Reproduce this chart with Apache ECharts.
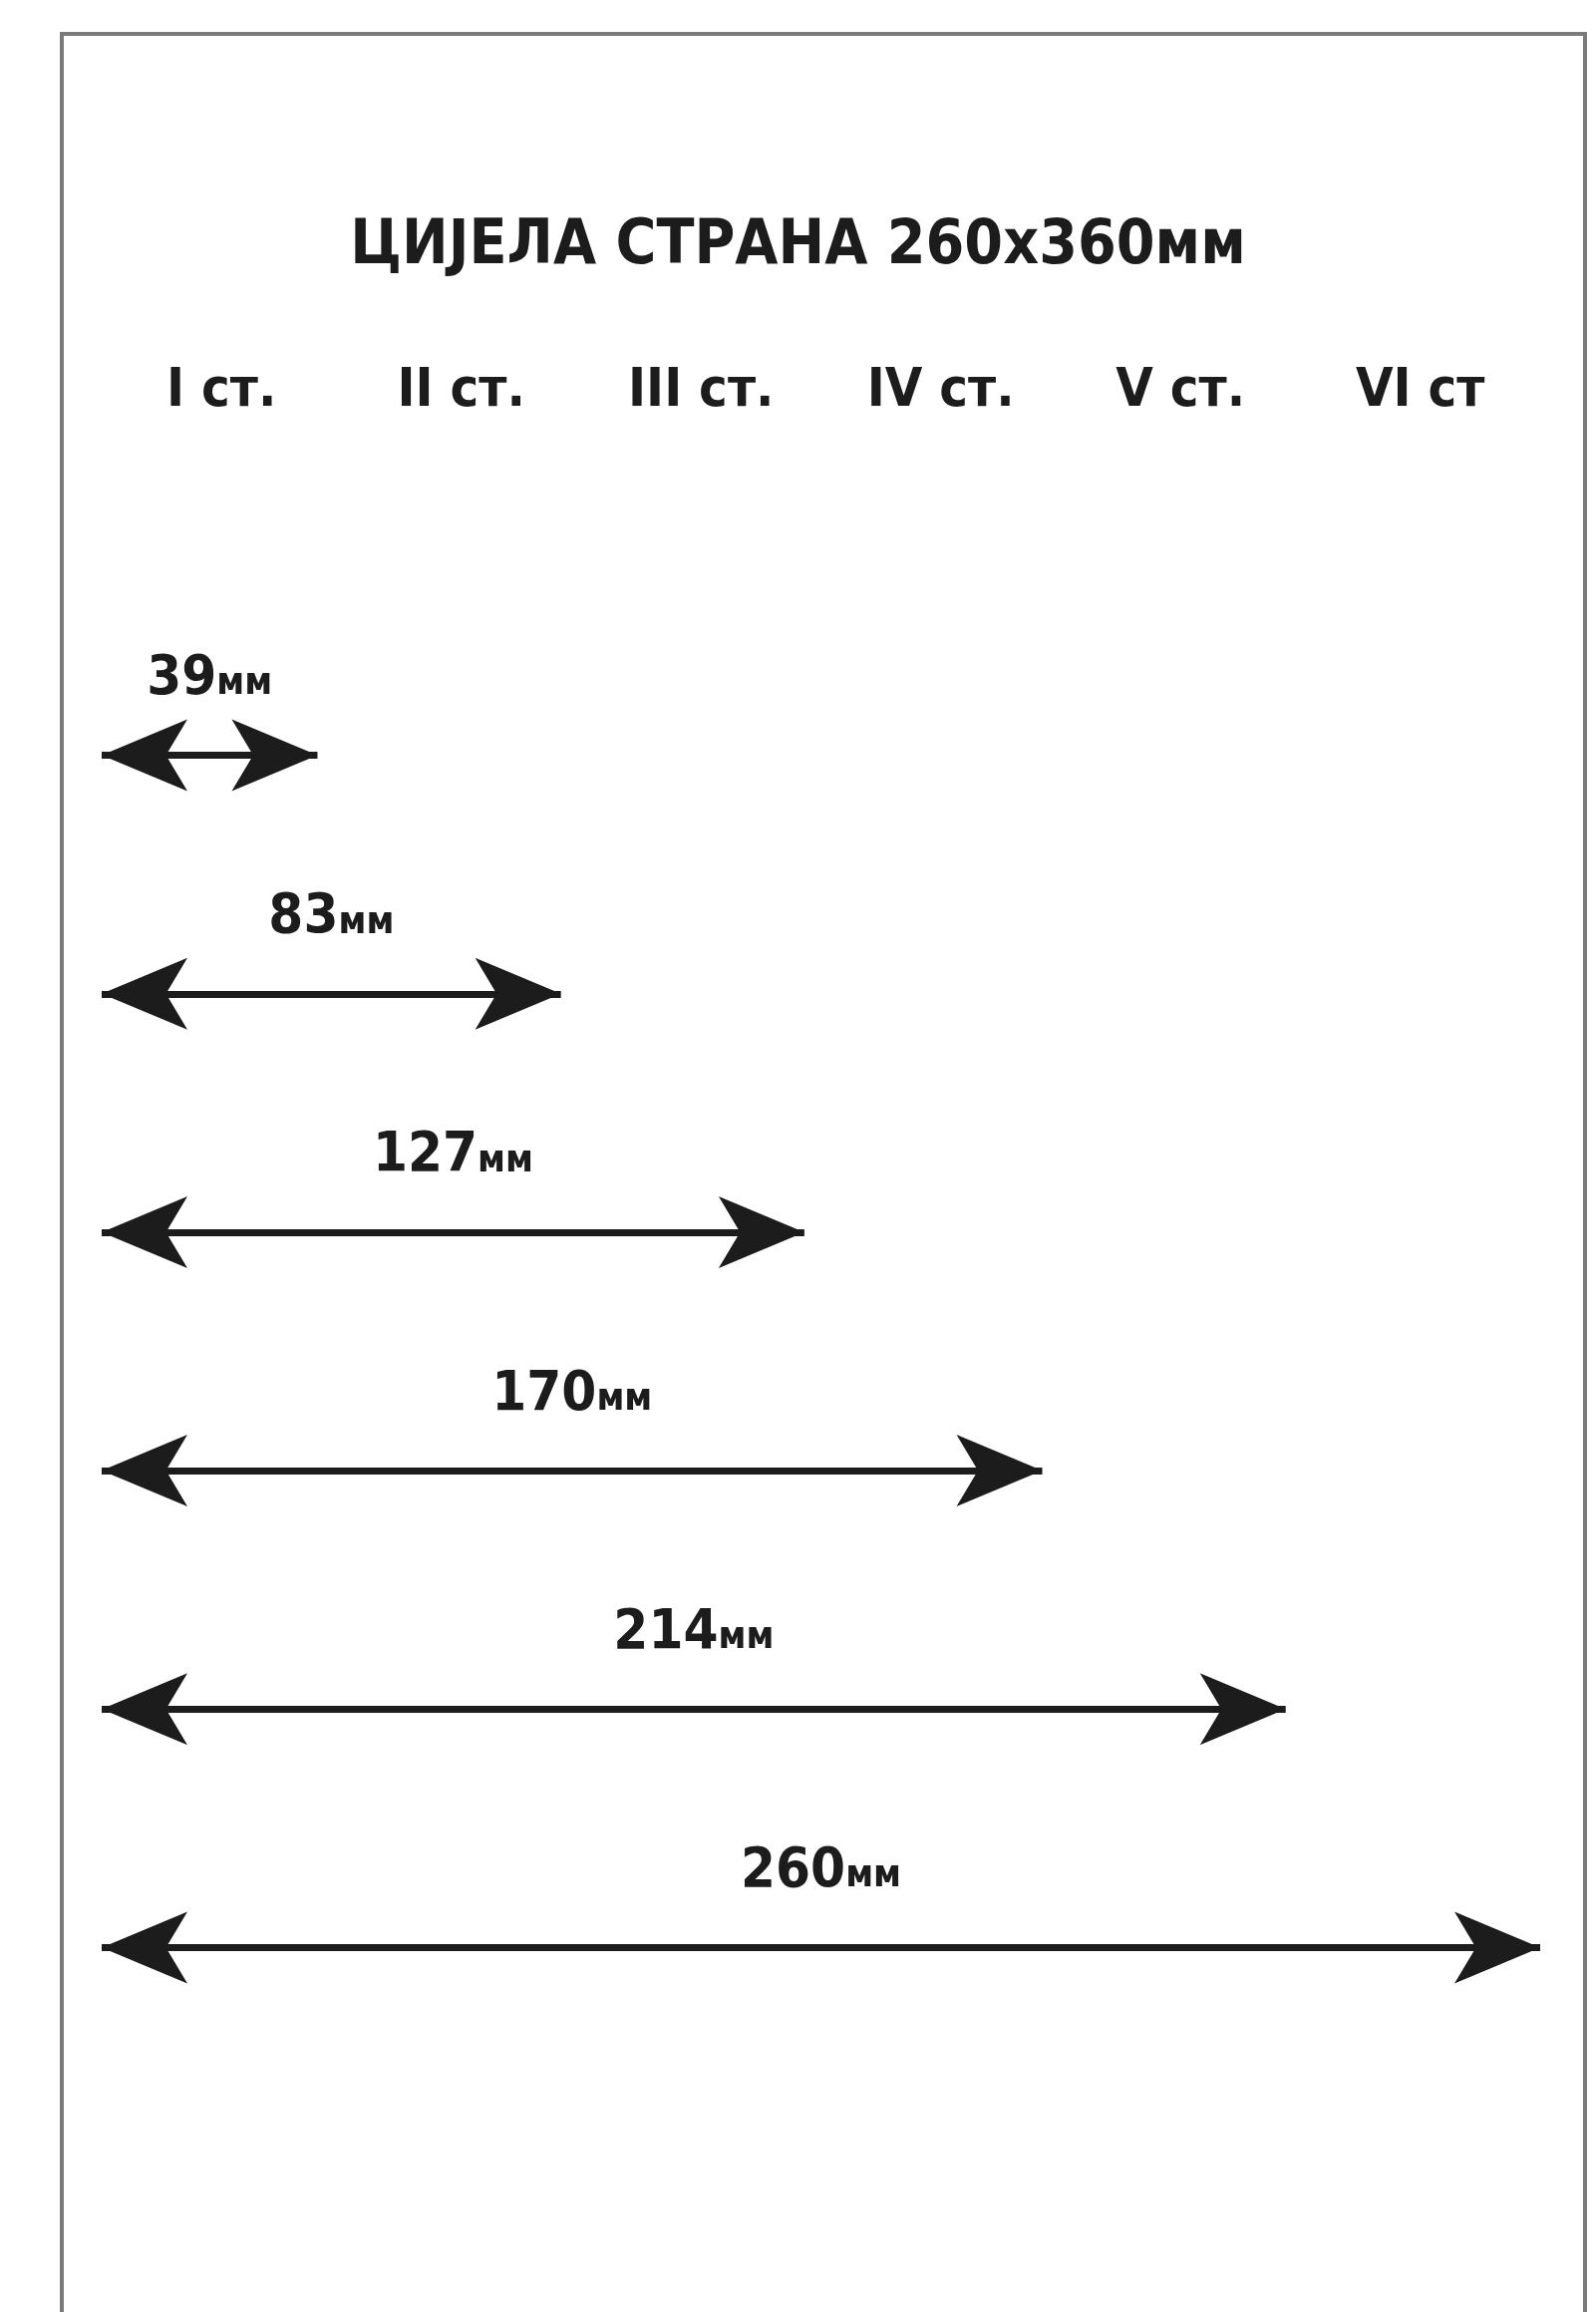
<!DOCTYPE html>
<html>
<head>
<meta charset="utf-8">
<title>ЦИЈЕЛА СТРАНА</title>
<script src="https://cdn.jsdelivr.net/npm/echarts@6/dist/echarts.min.js"></script>
<style>
  html, body { margin: 0; padding: 0; background: #fff; }
  #chart { width: 1601px; height: 2319px; }
</style>
</head>
<body>
<div id="chart"></div>
<script>
// page width in mm, column labels, arrow widths (mm)
const pageWidth = 260;
const columns = ['I ст.', 'II ст.', 'III ст.', 'IV ст.', 'V ст.', 'VI ст'];
const widths = [39, 83, 127, 170, 214, 260];
const rows = widths.map(w => w + 'мм');

const font = "'Liberation Sans Narrow', 'DejaVu Sans Condensed', 'Roboto', sans-serif";
const ink = '#1c1c1c';

const chart = echarts.init(document.getElementById('chart'));

const option = {
    backgroundColor: '#fff',
    animation: false,
    title: {
        text: 'ЦИЈЕЛА СТРАНА 260x360мм',
        left: 'center',
        top: 212,
        textStyle: {
            fontFamily: font,
            fontSize: 62,
            fontWeight: 'bold',
            color: ink,
        },
    },
    graphic: [{
        // scanned page frame
        type: 'rect',
        shape: { x: 62, y: 34, width: 1528, height: 2400 },
        style: { fill: null, stroke: '#7a7a7a', lineWidth: 4 },
        silent: true,
    }],
    grid: {
        left: 102,
        right: 56,
        top: 638,
        bottom: 246,
    },
    xAxis: [{
        type: 'value',
        min: 0,
        max: pageWidth,
        show: false,
    }, {
        // column headers
        type: 'category',
        position: 'top',
        data: columns,
        offset: 210,
        axisLine: { show: false },
        axisTick: { show: false },
        axisLabel: {
            interval: 0,
            fontFamily: font,
            fontSize: 54,
            fontWeight: 'bold',
            color: ink,
        },
    }],
    yAxis: {
        type: 'category',
        data: rows,
        inverse: true,
        show: false,
    },
    series: [{
        type: 'lines',
        coordinateSystem: 'cartesian2d',
        xAxisIndex: 0,
        symbol: ['arrow', 'arrow'],
        symbolSize: [[54, 86], [54, 86]],
        lineStyle: { color: ink, width: 7, opacity: 1, curveness: 0 },
        label: {
            show: true,
            position: 'insideMiddleTop',
            distance: 48,
            formatter: p => '{n|' + widths[p.dataIndex] + '}{u|мм}',
            rich: {
                n: { fontFamily: font, fontSize: 56, fontWeight: 'bold', color: ink },
                u: { fontFamily: font, fontSize: 38, fontWeight: 'bold', color: ink, padding: [10, 0, 0, 0] },
            },
        },
        data: widths.map((w, i) => ({
            coords: [[0, i], [w, i]],
        })),
    }],
};

chart.setOption(option);
</script>
</body>
</html>
